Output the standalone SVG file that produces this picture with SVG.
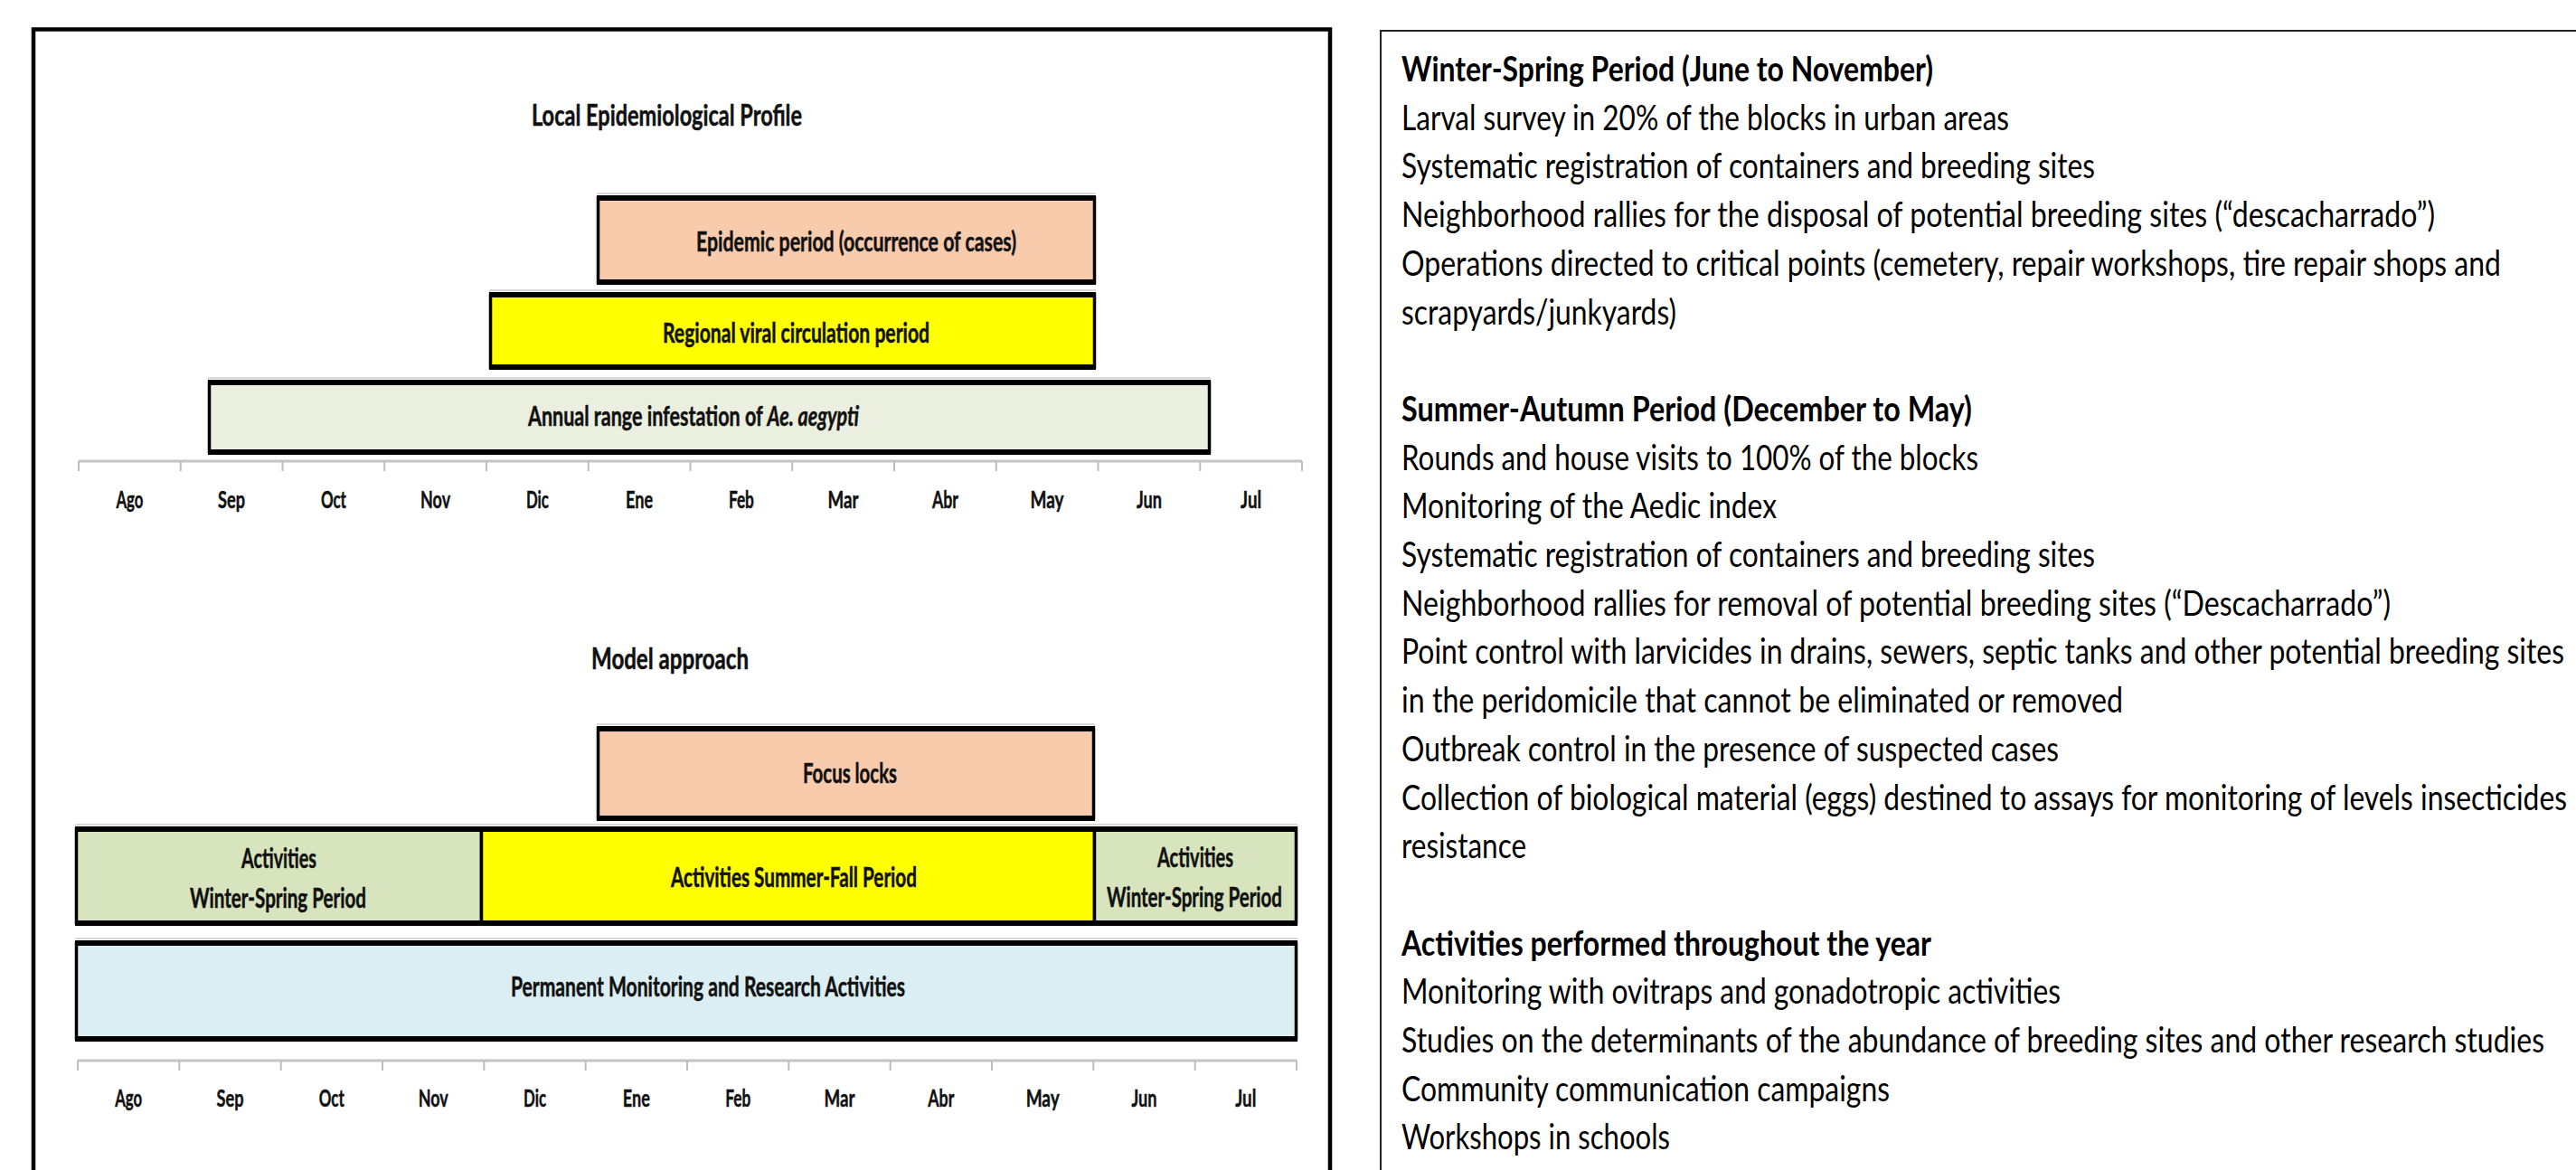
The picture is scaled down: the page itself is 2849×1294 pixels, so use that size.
<svg xmlns="http://www.w3.org/2000/svg" width="2849" height="1294" viewBox="0 0 2849 1294">
<style>
.bg{fill:#ffffff}
.frame{fill:none;stroke:#000;stroke-width:4.5}
.frame2{fill:none;stroke:#222;stroke-width:2}
.box{stroke:#000;stroke-width:3.5}
.edge{stroke:#000;stroke-width:6;fill:none}
.halo{stroke:#d8d8d8;stroke-width:2;fill:none}
.axis{stroke:#c4c4c4;stroke-width:3;fill:none}
.tick{stroke:#bdbdbd;stroke-width:2;fill:none}
.lbl{font-family:Lato,"Liberation Sans",sans-serif;font-weight:bold;font-size:29.5px;fill:#111;stroke:#111;stroke-width:0.5;text-anchor:middle}
.ttl{font-family:Lato,"Liberation Sans",sans-serif;font-weight:bold;font-size:31.5px;fill:#111;stroke:#111;stroke-width:0.5;text-anchor:middle}
.mon{font-family:Lato,"Liberation Sans",sans-serif;font-weight:bold;font-size:27.5px;fill:#111;stroke:#111;stroke-width:0.5;text-anchor:middle}
.txt{font-family:Lato,"Liberation Sans",sans-serif;font-size:38px;fill:#000}
.hd{font-weight:bold}
.peach{fill:#F8CBAD}
.yellow{fill:#FFFF00}
.pale{fill:#EBEFDF}
.olive{fill:#D7E4BD}
.blue{fill:#DAEEF3}
</style>
<rect class="bg" x="0" y="0" width="2849" height="1294"/>

<g id="left-panel">
  <path class="frame" d="M37,1294 V32.5 H1471 V1294"/>
</g>
<g id="right-panel">
  <path class="frame2" d="M1527,1294 V34 H2849"/>
</g>

<g id="title-local">
  <text class="ttl" x="737.5" y="139" textLength="299" lengthAdjust="spacingAndGlyphs">Local Epidemiological Profile</text>
</g>

<g id="epidemic-period">
  <line class="halo" x1="660" y1="214" x2="1212" y2="214"/>
  <rect class="box peach" x="661.5" y="219" width="549" height="93"/>
  <path class="edge" d="M660,219 H1212 M660,312 H1212"/>
  <text class="lbl" x="947" y="278" textLength="354" lengthAdjust="spacingAndGlyphs">Epidemic period (occurrence of cases)</text>
</g>

<g id="regional-viral">
  <line class="halo" x1="541" y1="321" x2="1212" y2="321"/>
  <rect class="box yellow" x="542.5" y="326" width="668" height="80"/>
  <path class="edge" d="M541,326 H1212 M541,406 H1212"/>
  <text class="lbl" x="880.5" y="379" textLength="295" lengthAdjust="spacingAndGlyphs">Regional viral circulation period</text>
</g>

<g id="annual-range">
  <line class="halo" x1="230" y1="418" x2="1339" y2="418"/>
  <rect class="box pale" x="231.5" y="423" width="1106" height="77"/>
  <path class="edge" d="M230,423 H1339 M230,500 H1339"/>
  <text class="lbl" x="767" y="471" textLength="366" lengthAdjust="spacingAndGlyphs">Annual range infestation of <tspan font-style="italic">Ae. aegypti</tspan></text>
</g>

<g id="axis-top">
  <path class="axis" d="M87,510 H1440"/>
  <path class="tick" d="M87,510 V521 M199.75,510 V521 M312.5,510 V521 M425.25,510 V521 M538,510 V521 M650.75,510 V521 M763.5,510 V521 M876.25,510 V521 M989,510 V521 M1101.75,510 V521 M1214.5,510 V521 M1327.25,510 V521 M1440,510 V521"/>
  <text class="mon" x="143.4" y="562" textLength="30" lengthAdjust="spacingAndGlyphs">Ago</text>
  <text class="mon" x="256.1" y="562" textLength="30" lengthAdjust="spacingAndGlyphs">Sep</text>
  <text class="mon" x="368.9" y="562" textLength="28" lengthAdjust="spacingAndGlyphs">Oct</text>
  <text class="mon" x="481.6" y="562" textLength="33" lengthAdjust="spacingAndGlyphs">Nov</text>
  <text class="mon" x="594.4" y="562" textLength="25" lengthAdjust="spacingAndGlyphs">Dic</text>
  <text class="mon" x="707.1" y="562" textLength="30" lengthAdjust="spacingAndGlyphs">Ene</text>
  <text class="mon" x="819.9" y="562" textLength="28" lengthAdjust="spacingAndGlyphs">Feb</text>
  <text class="mon" x="932.6" y="562" textLength="34" lengthAdjust="spacingAndGlyphs">Mar</text>
  <text class="mon" x="1045.4" y="562" textLength="29" lengthAdjust="spacingAndGlyphs">Abr</text>
  <text class="mon" x="1158.1" y="562" textLength="37" lengthAdjust="spacingAndGlyphs">May</text>
  <text class="mon" x="1270.9" y="562" textLength="28" lengthAdjust="spacingAndGlyphs">Jun</text>
  <text class="mon" x="1383.6" y="562" textLength="23" lengthAdjust="spacingAndGlyphs">Jul</text>
</g>

<g id="title-model">
  <text class="ttl" x="741" y="740" textLength="174" lengthAdjust="spacingAndGlyphs">Model approach</text>
</g>

<g id="focus-locks">
  <line class="halo" x1="660" y1="801" x2="1211" y2="801"/>
  <rect class="box peach" x="661.5" y="806" width="548" height="99"/>
  <path class="edge" d="M660,806 H1211 M660,905 H1211"/>
  <text class="lbl" x="940" y="866" textLength="104" lengthAdjust="spacingAndGlyphs">Focus locks</text>
</g>

<g id="activities-row">
  <line class="halo" x1="83" y1="912" x2="1435" y2="912"/>
  <rect class="box olive" x="84.5" y="917" width="448" height="104"/>
  <rect class="box yellow" x="532.5" y="917" width="678" height="104"/>
  <rect class="box olive" x="1210.5" y="917" width="223" height="104"/>
  <path class="edge" d="M83,917 H1435 M83,1021 H1435"/>
</g>
<g id="activities-winter-left">
  <text class="lbl" x="308.5" y="960" textLength="83" lengthAdjust="spacingAndGlyphs">Activities</text>
  <text class="lbl" x="307.5" y="1004" textLength="195" lengthAdjust="spacingAndGlyphs">Winter-Spring  Period</text>
</g>
<g id="activities-summer">
  <text class="lbl" x="878" y="981" textLength="272" lengthAdjust="spacingAndGlyphs">Activities Summer-Fall Period</text>
</g>
<g id="activities-winter-right">
  <text class="lbl" x="1322" y="959" textLength="84" lengthAdjust="spacingAndGlyphs">Activities</text>
  <text class="lbl" x="1321" y="1003" textLength="194" lengthAdjust="spacingAndGlyphs">Winter-Spring  Period</text>
</g>

<g id="permanent-monitoring">
  <line class="halo" x1="83" y1="1038" x2="1435" y2="1038"/>
  <rect class="box blue" x="84.5" y="1043" width="1349" height="106"/>
  <path class="edge" d="M83,1043 H1435 M83,1149 H1435"/>
  <text class="lbl" x="783" y="1102" textLength="436" lengthAdjust="spacingAndGlyphs">Permanent Monitoring  and Research Activities</text>
</g>

<g id="axis-bottom">
  <path class="axis" d="M86,1173 H1434"/>
  <path class="tick" d="M86,1173 V1184 M198.3,1173 V1184 M310.7,1173 V1184 M423,1173 V1184 M535.3,1173 V1184 M647.7,1173 V1184 M760,1173 V1184 M872.3,1173 V1184 M984.7,1173 V1184 M1097,1173 V1184 M1209.3,1173 V1184 M1321.7,1173 V1184 M1434,1173 V1184"/>
  <text class="mon" x="142.2" y="1224" textLength="30" lengthAdjust="spacingAndGlyphs">Ago</text>
  <text class="mon" x="254.5" y="1224" textLength="30" lengthAdjust="spacingAndGlyphs">Sep</text>
  <text class="mon" x="366.8" y="1224" textLength="28" lengthAdjust="spacingAndGlyphs">Oct</text>
  <text class="mon" x="479.2" y="1224" textLength="33" lengthAdjust="spacingAndGlyphs">Nov</text>
  <text class="mon" x="591.5" y="1224" textLength="25" lengthAdjust="spacingAndGlyphs">Dic</text>
  <text class="mon" x="703.8" y="1224" textLength="30" lengthAdjust="spacingAndGlyphs">Ene</text>
  <text class="mon" x="816.2" y="1224" textLength="28" lengthAdjust="spacingAndGlyphs">Feb</text>
  <text class="mon" x="928.5" y="1224" textLength="34" lengthAdjust="spacingAndGlyphs">Mar</text>
  <text class="mon" x="1040.8" y="1224" textLength="29" lengthAdjust="spacingAndGlyphs">Abr</text>
  <text class="mon" x="1153.2" y="1224" textLength="37" lengthAdjust="spacingAndGlyphs">May</text>
  <text class="mon" x="1265.5" y="1224" textLength="28" lengthAdjust="spacingAndGlyphs">Jun</text>
  <text class="mon" x="1377.8" y="1224" textLength="23" lengthAdjust="spacingAndGlyphs">Jul</text>
</g>

<g id="activities-text">
  <text class="txt hd" x="1550" y="90" textLength="588" lengthAdjust="spacingAndGlyphs">Winter-Spring Period (June to November)</text>
  <text class="txt" x="1550" y="143.7" textLength="672" lengthAdjust="spacingAndGlyphs">Larval survey in 20% of the blocks in urban areas</text>
  <text class="txt" x="1550" y="197.4" textLength="767" lengthAdjust="spacingAndGlyphs">Systematic registration of containers and breeding sites</text>
  <text class="txt" x="1550" y="251.1" textLength="1143" lengthAdjust="spacingAndGlyphs">Neighborhood rallies for the disposal of potential breeding sites (“descacharrado”)</text>
  <text class="txt" x="1550" y="304.8" textLength="1216" lengthAdjust="spacingAndGlyphs">Operations directed to critical points (cemetery, repair workshops, tire repair shops and</text>
  <text class="txt" x="1550" y="358.5" textLength="304" lengthAdjust="spacingAndGlyphs">scrapyards/junkyards)</text>
  <text class="txt hd" x="1550" y="465.9" textLength="631" lengthAdjust="spacingAndGlyphs">Summer-Autumn Period (December to May)</text>
  <text class="txt" x="1550" y="519.6" textLength="638" lengthAdjust="spacingAndGlyphs">Rounds and house visits to 100% of the blocks</text>
  <text class="txt" x="1550" y="573.3" textLength="415" lengthAdjust="spacingAndGlyphs">Monitoring of the Aedic index</text>
  <text class="txt" x="1550" y="627" textLength="767" lengthAdjust="spacingAndGlyphs">Systematic registration of containers and breeding sites</text>
  <text class="txt" x="1550" y="680.7" textLength="1094" lengthAdjust="spacingAndGlyphs">Neighborhood rallies for removal of potential breeding sites (“Descacharrado”)</text>
  <text class="txt" x="1550" y="734.4" textLength="1286" lengthAdjust="spacingAndGlyphs">Point control with larvicides in drains, sewers, septic tanks and other potential breeding sites</text>
  <text class="txt" x="1550" y="788.1" textLength="798" lengthAdjust="spacingAndGlyphs">in the peridomicile that cannot be eliminated or removed</text>
  <text class="txt" x="1550" y="841.8" textLength="727" lengthAdjust="spacingAndGlyphs">Outbreak control in the presence of suspected cases</text>
  <text class="txt" x="1550" y="895.5" textLength="1289" lengthAdjust="spacingAndGlyphs">Collection of biological material (eggs) destined to assays for monitoring of levels insecticides</text>
  <text class="txt" x="1550" y="949.2" textLength="138" lengthAdjust="spacingAndGlyphs">resistance</text>
  <text class="txt hd" x="1550" y="1056.6" textLength="586" lengthAdjust="spacingAndGlyphs">Activities performed throughout the year</text>
  <text class="txt" x="1550" y="1110.3" textLength="729" lengthAdjust="spacingAndGlyphs">Monitoring with ovitraps and gonadotropic activities</text>
  <text class="txt" x="1550" y="1164" textLength="1264" lengthAdjust="spacingAndGlyphs">Studies on the determinants of the abundance of breeding sites and other research studies</text>
  <text class="txt" x="1550" y="1217.7" textLength="540" lengthAdjust="spacingAndGlyphs">Community communication campaigns</text>
  <text class="txt" x="1550" y="1271.4" textLength="297" lengthAdjust="spacingAndGlyphs">Workshops in schools</text>
</g>
</svg>
